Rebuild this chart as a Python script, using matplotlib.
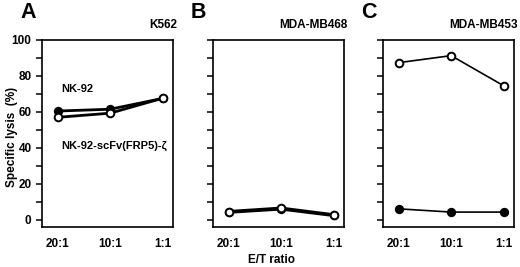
import matplotlib
matplotlib.use("Agg")
import matplotlib.pyplot as plt
from matplotlib.ticker import MultipleLocator

plt.rcParams['font.family'] = ['Liberation Sans', 'DejaVu Sans']
plt.rcParams['font.weight'] = 'bold'

ratios = ["20:1", "10:1", "1:1"]
panels = ["A", "B", "C"]
targets = ["K562", "MDA-MB468", "MDA-MB453"]
nk92 = [[60.5, 61.5, 67.5], [4.2, 6.0, 2.4], [6.1, 4.3, 4.3]]
nk92_scfv = [[57.0, 59.3, 67.6], [4.6, 6.5, 2.8], [87.4, 91.3, 74.6]]
line_widths = [2.0, 2.2, 1.2]

W, H = 520, 267
fig = plt.figure(figsize=(W / 100, H / 100), dpi=100)

lefts = [42, 213, 383]
ax_w, ax_top, ax_bot = 131, 40, 227

for i in range(3):
    ax = fig.add_axes([lefts[i] / W, 1 - ax_bot / H, ax_w / W, (ax_bot - ax_top) / H])
    x = list(range(len(ratios)))
    lw = line_widths[i]
    ax.plot(x, nk92[i], '-', color='black', lw=lw, marker='o', ms=5.5,
            mfc='black', mec='black', mew=1.2, zorder=3)
    ax.plot(x, nk92_scfv[i], '-', color='black', lw=lw, marker='o', ms=5.5,
            mfc='white', mec='black', mew=1.4, zorder=4)
    ax.set_xlim(-0.3, 2.2)
    ax.set_ylim(-4, 100)
    ax.set_xticks(x)
    ax.set_xticklabels(ratios, fontsize=8.5, fontweight='bold')
    ax.yaxis.set_major_locator(MultipleLocator(20))
    ax.yaxis.set_minor_locator(MultipleLocator(10))
    ax.tick_params(axis='both', which='both', direction='out', width=1.1)
    ax.tick_params(axis='y', which='major', length=4, labelsize=8.5)
    ax.tick_params(axis='y', which='minor', length=4)
    ax.tick_params(axis='x', length=0, pad=8)
    if i > 0:
        ax.set_yticklabels([])
    else:
        for t in ax.get_yticklabels():
            t.set_fontweight('bold')
    for s in ax.spines.values():
        s.set_linewidth(1.2)
    ax.text(1.03, 1.05, targets[i], transform=ax.transAxes, ha='right', va='bottom',
            fontsize=8.5, fontweight='bold')
    fig.text((lefts[i] - 22) / W, 1 - 12 / H, panels[i], ha='left', va='center',
             fontsize=15.5, fontweight='bold')
    if i == 0:
        ax.text(0.15, 0.738, "NK-92", transform=ax.transAxes, fontsize=8,
                fontweight='bold', va='center')
        ax.text(0.15, 0.433, "NK-92-scFv(FRP5)-ζ", transform=ax.transAxes, fontsize=8,
                fontweight='bold', va='center')

fig.text(12 / W, 1 - 137 / H, "Specific lysis  (%)", rotation=90, ha='center', va='center',
         fontsize=8.5, fontweight='bold')
fig.text(272 / W, 1 - 260 / H, "E/T ratio", ha='center', va='center', fontsize=8.5,
         fontweight='bold')

fig.savefig("out.png", dpi=100)
